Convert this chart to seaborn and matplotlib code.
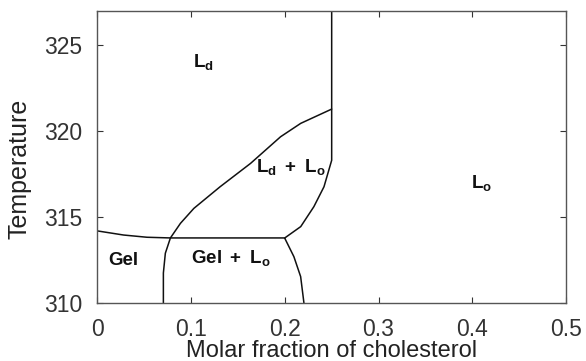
import seaborn as sns
import matplotlib.pyplot as plt

# phase boundaries (x = molar fraction of cholesterol, T = temperature)
lo_x = [0.25, 0.25, 0.2418, 0.231, 0.217, 0.2]
lo_t = [327.0, 318.3, 316.76, 315.6, 314.44, 313.78]

ld_x = [0.25, 0.217, 0.1955, 0.1635, 0.131, 0.103, 0.0887, 0.078, 0.0726, 0.0705, 0.0705]
ld_t = [321.28, 320.45, 319.67, 318.12, 316.76, 315.5, 314.63, 313.78, 312.89, 311.74, 310.0]

gel_x = [0.0, 0.028, 0.053, 0.078, 0.199, 0.2]
gel_t = [314.19, 313.95, 313.82, 313.78, 313.78, 313.76]

gel_lo_x = [0.2, 0.2097, 0.2169, 0.2204]
gel_lo_t = [313.76, 312.69, 311.53, 310.0]

# region labels
labels = [r'$\mathbf{L_d\;+\;L_o}$', r'$\mathbf{L_d}$', r'$\mathbf{L_o}$', 'Gel', r'$\mathbf{Gel\;+\;L_o}$']
label_x = [0.206, 0.113, 0.41, 0.028, 0.142]
label_t = [317.9, 324.0, 317.0, 312.45, 312.6]

sns.set_style('ticks')
plt.rcParams['font.family'] = ['Liberation Sans', 'DejaVu Sans']
plt.rcParams['mathtext.fontset'] = 'custom'
plt.rcParams['mathtext.rm'] = 'Liberation Sans'
plt.rcParams['mathtext.bf'] = 'Liberation Sans:bold'

fig, ax = plt.subplots(figsize=(5.86, 3.61), dpi=100)

for xs, ts in [(lo_x, lo_t), (ld_x, ld_t), (gel_x, gel_t), (gel_lo_x, gel_lo_t)]:
    sns.lineplot(x=xs, y=ts, sort=False, estimator=None, color='#111111', linewidth=1.1, ax=ax)

for s, x, t in zip(labels, label_x, label_t):
    ax.text(x, t, s, ha='center', va='center', fontsize=13.5, fontweight='bold', color='#111111')

ax.set_xlim(0, 0.5)
ax.set_ylim(310, 327)
ax.set_xticks([0, 0.1, 0.2, 0.3, 0.4, 0.5])
ax.set_xticklabels(['0', '0.1', '0.2', '0.3', '0.4', '0.5'])
ax.set_yticks([310, 315, 320, 325])
ax.tick_params(direction='in', top=True, right=True, labelsize=16.5, colors='#333333',
               length=4, width=0.8)
ax.tick_params(axis='x', pad=11)
ax.tick_params(axis='y', pad=10.5)
for sp in ax.spines.values():
    sp.set_color('#555555')
    sp.set_linewidth(1.0)
ax.set_xlabel('Molar fraction of cholesterol', fontsize=17, color='#222222')
ax.set_ylabel('Temperature', fontsize=18, color='#222222')
ax.xaxis.set_label_coords(0.5, -0.127)
ax.yaxis.set_label_coords(-0.14, 0.459)

fig.subplots_adjust(left=0.166, right=0.966, top=0.97, bottom=0.161)
fig.savefig('out.png')
